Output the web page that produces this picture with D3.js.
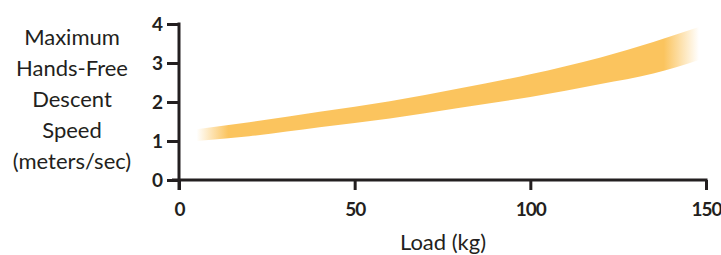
<!DOCTYPE html>
<html>
<head>
<meta charset="utf-8">
<script src="https://cdn.jsdelivr.net/npm/d3@7"></script>
<style>
  body { margin: 0; background: #fff; }
  svg text { font-family: Lato, "Open Sans", sans-serif; fill: #231f20; }
</style>
</head>
<body>
<div id="chart"></div>
<script>
// chart size
var svgWidth = 721;
var svgHeight = 255;

// band data (load in kg, speed in m/s)
var loads = [5, 20, 40, 60, 80, 100, 120, 135, 148];
var upperSpeed = [1.30, 1.48, 1.75, 2.02, 2.35, 2.71, 3.14, 3.54, 3.92];
var lowerSpeed = [1.00, 1.12, 1.35, 1.58, 1.85, 2.13, 2.46, 2.73, 3.08];

var xTicks = [0, 50, 100, 150];
var yTicks = [0, 1, 2, 3, 4];
var yTitle = ["Maximum", "Hands-Free", "Descent", "Speed", "(meters/sec)"];
var xTitle = "Load (kg)";

var bandColor = "#fbc45e";
var axisColor = "#231f20";

var svg = d3.select("#chart").append("svg")
    .attr("width", svgWidth)
    .attr("height", svgHeight);

var x = d3.scaleLinear().domain([0, 150]).range([179, 706]);
var y = d3.scaleLinear().domain([0, 4]).range([180, 24]);

var bandData = loads.map(function(d, i) {
    return {load: d, hi: upperSpeed[i], lo: lowerSpeed[i]};
});

// fade in on the left, fade out on the right
var defs = svg.append("defs");
var first = loads[0], last = loads[loads.length - 1];
var grad = defs.append("linearGradient")
    .attr("id", "fade")
    .attr("gradientUnits", "userSpaceOnUse")
    .attr("x1", x(first)).attr("x2", x(last))
    .attr("y1", 0).attr("y2", 0);
var stops = [[first, 0], [14, 1], [138, 1], [last, 0]];
stops.forEach(function(s) {
    grad.append("stop")
        .attr("offset", (s[0] - first) / (last - first))
        .attr("stop-color", bandColor)
        .attr("stop-opacity", s[1]);
});

var area = d3.area()
    .x(function(d) { return x(d.load); })
    .y0(function(d) { return y(d.lo); })
    .y1(function(d) { return y(d.hi); })
    .curve(d3.curveMonotoneX);

svg.append("path")
    .datum(bandData)
    .attr("d", area)
    .attr("fill", "url(#fade)");

// axes
var xAxis = d3.axisBottom(x).tickValues(xTicks).tickFormat(d3.format("d"))
    .tickSize(10).tickPadding(13).tickSizeOuter(0);
var yAxis = d3.axisLeft(y).tickValues(yTicks).tickFormat(d3.format("d"))
    .tickSize(12).tickPadding(5).tickSizeOuter(0);

var gx = svg.append("g")
    .attr("transform", "translate(0," + y(0) + ")")
    .call(xAxis);
var gy = svg.append("g")
    .attr("transform", "translate(" + x(0) + ",0)")
    .call(yAxis);

[gx, gy].forEach(function(g) {
    g.select(".domain").remove();
    g.selectAll(".tick line").attr("stroke", axisColor).attr("stroke-width", 3);
    g.selectAll(".tick text")
        .attr("fill", axisColor)
        .style("font-size", "19px")
        .style("font-weight", "bold")
        .style("letter-spacing", "-1px");
});

// axis lines cross each other at the origin
svg.append("line")
    .attr("x1", x(0) - 7).attr("x2", x(150) + 1.5)
    .attr("y1", y(0)).attr("y2", y(0))
    .attr("stroke", axisColor).attr("stroke-width", 3);
svg.append("line")
    .attr("x1", x(0)).attr("x2", x(0))
    .attr("y1", y(4) - 1.5).attr("y2", y(0) + 10)
    .attr("stroke", axisColor).attr("stroke-width", 3);

// titles
svg.append("g").selectAll("text")
    .data(yTitle)
    .enter()
    .append("text")
    .attr("x", 72)
    .attr("y", function(d, i) { return 45 + i * 31; })
    .attr("text-anchor", "middle")
    .style("font-size", "22px")
    .text(function(d) { return d; });

svg.append("text")
    .attr("x", 443)
    .attr("y", 250)
    .attr("text-anchor", "middle")
    .style("font-size", "22px")
    .text(xTitle);
</script>
</body>
</html>
